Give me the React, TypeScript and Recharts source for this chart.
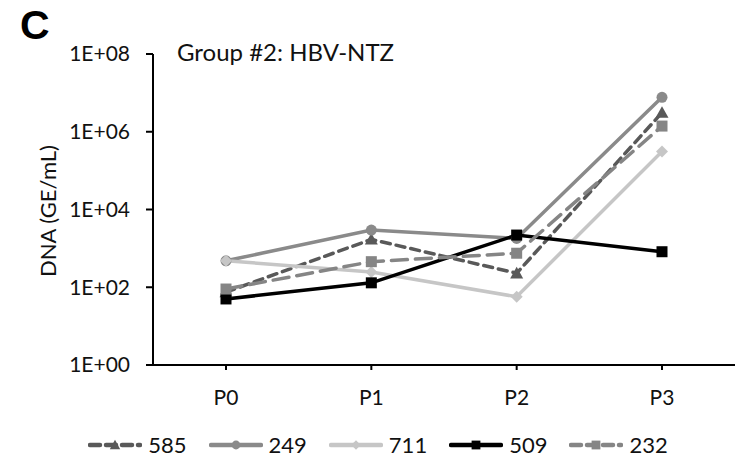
import { LineChart, Line, XAxis, YAxis } from 'recharts';

const categories = ['P0', 'P1', 'P2', 'P3'];
const seriesNames = ['585', '249', '711', '509', '232'];
const s585 = [75, 1700, 230, 3.1e6];
const s249 = [480, 2950, 1800, 7.7e6];
const s711 = [480, 247, 57, 3.1e5];
const s509 = [50, 130, 2200, 820];
const s232 = [90, 455, 750, 1.4e6];
const yTicks = [1, 1e2, 1e4, 1e6, 1e8];

const seriesValues = [s585, s249, s711, s509, s232];

const data = categories.map((c, i) => {
  const row: Record<string, any> = { name: c };
  seriesNames.forEach((n, k) => {
    row[n] = seriesValues[k][i];
  });
  return row;
});

const styles: Record<string, { color: string; dash?: string; shape: string }> = {
  '585': { color: '#595959', dash: '9 6', shape: 'triangle' },
  '249': { color: '#8a8a8a', shape: 'circle' },
  '711': { color: '#c6c6c6', shape: 'diamond' },
  '509': { color: '#000000', shape: 'square' },
  '232': { color: '#858585', dash: '16 8', shape: 'square' },
};

const FONT = 'Lato, "Open Sans", sans-serif';

function Marker({ cx, cy, shape, color, s = 1 }: any) {
  if (cx == null || cy == null) return null;
  if (shape === 'circle') return <circle cx={cx} cy={cy} r={5.5 * s} fill={color} />;
  if (shape === 'square') {
    const h = 5.5 * s;
    return <rect x={cx - h} y={cy - h} width={2 * h} height={2 * h} fill={color} />;
  }
  if (shape === 'diamond') {
    const h = 6 * s;
    return (
      <polygon
        points={`${cx},${cy - h} ${cx + h},${cy} ${cx},${cy + h} ${cx - h},${cy}`}
        fill={color}
      />
    );
  }
  const h = 6.5 * s;
  return (
    <polygon
      points={`${cx},${cy - h} ${cx + h},${cy + h * 0.8} ${cx - h},${cy + h * 0.8}`}
      fill={color}
    />
  );
}

const fmt = (v: number) => `1E+${String(Math.round(Math.log10(v))).padStart(2, '0')}`;

export default function App() {
  return (
    <div
      style={{
        position: 'absolute',
        left: 0,
        top: 0,
        width: 746,
        height: 464,
        background: '#fff',
        fontFamily: FONT,
      }}
    >
      <div
        style={{
          position: 'absolute',
          left: 20,
          top: 3,
          fontFamily: '"Liberation Sans", Arial, sans-serif',
          fontWeight: 'bold',
          fontSize: 41,
          lineHeight: '44px',
        }}
      >
        C
      </div>
      <div
        style={{
          position: 'absolute',
          left: 177,
          top: 37,
          fontSize: 24,
          lineHeight: '30px',
          color: '#111',
        }}
      >
        Group #2: HBV-NTZ
      </div>
      <div
        style={{
          position: 'absolute',
          left: 47,
          top: 211,
          transform: 'translate(-50%, -50%) rotate(-90deg)',
          fontSize: 22,
          whiteSpace: 'nowrap',
          color: '#111',
        }}
      >
        DNA (GE/mL)
      </div>
      <LineChart
        width={746}
        height={464}
        data={data}
        margin={{ top: 54, right: 11, bottom: 59, left: 0 }}
      >
        <XAxis
          dataKey="name"
          height={40}
          padding={{ left: 73, right: 73 }}
          axisLine={{ stroke: '#000', strokeWidth: 2 }}
          tickLine={{ stroke: '#000', strokeWidth: 2 }}
          tickSize={5}
          tickMargin={20}
          tick={{ fill: '#111', fontSize: 21, fontFamily: FONT }}
        />
        <YAxis
          scale="log"
          domain={[1, 1e8]}
          ticks={yTicks}
          allowDataOverflow
          width={153}
          tickFormatter={fmt}
          axisLine={{ stroke: '#000', strokeWidth: 2 }}
          tickLine={{ stroke: '#000', strokeWidth: 2 }}
          tickSize={7}
          tickMargin={16}
          tick={{ fill: '#111', fontSize: 21, fontFamily: FONT }}
        />
        {seriesNames.map((n) => (
          <Line
            key={n}
            dataKey={n}
            type="linear"
            stroke={styles[n].color}
            strokeWidth={3.5}
            strokeDasharray={styles[n].dash}
            strokeLinecap={styles[n].dash ? 'round' : 'butt'}
            isAnimationActive={false}
            dot={(p: any) => (
              <Marker key={`${n}-${p.index}`} cx={p.cx} cy={p.cy} shape={styles[n].shape} color={styles[n].color} />
            )}
            activeDot={false}
          />
        ))}
      </LineChart>
      <div
        style={{
          position: 'absolute',
          left: 0,
          top: 431,
          width: 746,
          display: 'flex',
          justifyContent: 'center',
          paddingLeft: 32,
          boxSizing: 'border-box',
        }}
      >
        {seriesNames.map((n) => (
          <div key={n} style={{ display: 'flex', alignItems: 'center', marginRight: 22 }}>
            <svg width={54} height={28}>
              <line
                x1={2}
                y1={14}
                x2={52}
                y2={14}
                stroke={styles[n].color}
                strokeWidth={4.5}
                strokeDasharray={styles[n].dash ? '10 6' : undefined}
                strokeLinecap="round"
              />
              <Marker cx={27} cy={14} shape={styles[n].shape} color={styles[n].color} s={0.8} />
            </svg>
            <span style={{ fontSize: 22, marginLeft: 6, color: '#111', lineHeight: '28px' }}>{n}</span>
          </div>
        ))}
      </div>
    </div>
  );
}
